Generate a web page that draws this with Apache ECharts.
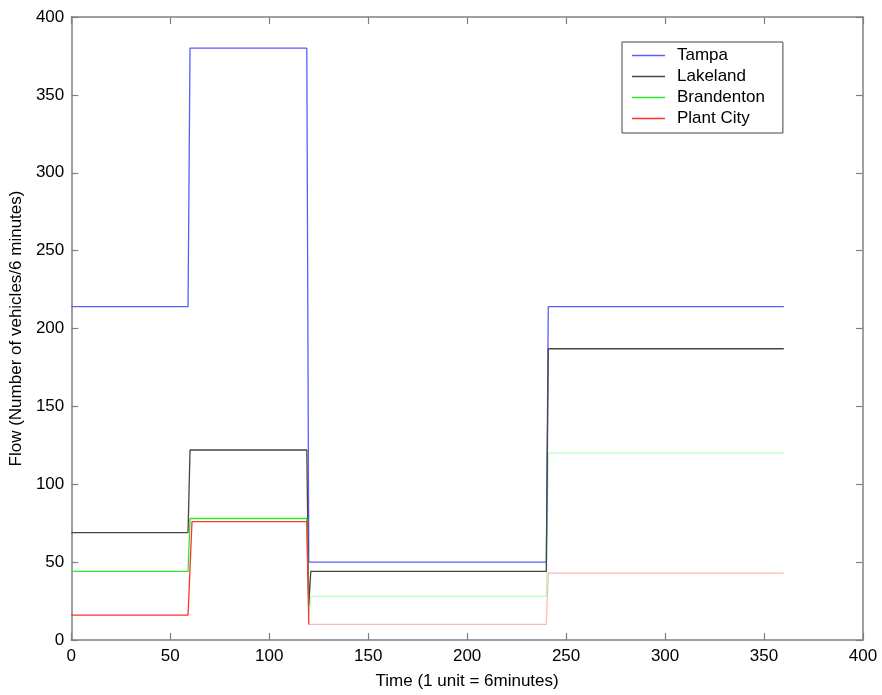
<!DOCTYPE html>
<html>
<head>
<meta charset="utf-8">
<script src="https://cdn.jsdelivr.net/npm/echarts@6/dist/echarts.min.js"></script>
<style>html,body{margin:0;padding:0;background:#fff;}#main{width:882px;height:695px;}</style>
</head>
<body>
<div id="main"></div>
<script>
// Data (time in units of 6 minutes, flow in vehicles / 6 minutes)
const seriesNames = ['Tampa', 'Lakeland', 'Brandenton', 'Plant City'];
const tampaTime = [0, 59, 60, 119, 120, 240, 241, 360];
const tampaFlow = [214, 214, 380, 380, 50, 50, 214, 214];
const lakelandTime = [0, 59, 60, 119, 120, 121, 240, 241, 360];
const lakelandFlow = [69, 69, 122, 122, 22, 44, 44, 187, 187];
const brandentonTime = [0, 59, 60, 119, 120, 121, 240, 241, 360];
const brandentonFlow = [44, 44, 78, 78, 16, 28, 28, 120, 120];
const plantCityTime = [0, 59, 61, 119, 120, 240, 241, 360];
const plantCityFlow = [16, 16, 76, 76, 10, 10, 43, 43];
const xTicks = [0, 50, 100, 150, 200, 250, 300, 350, 400];
const yTicks = [0, 50, 100, 150, 200, 250, 300, 350, 400];
const fadeFrom = 120; // the thin green/red lines look paler after this time

const pairs = (t, v) => t.map((x, i) => [x, v[i]]);
const before = (t, v) => pairs(t, v).filter(p => p[0] <= fadeFrom);
const after = (t, v) => pairs(t, v).filter(p => p[0] >= fadeFrom);
const FONT = 'Liberation Sans, Arial, sans-serif';
const AX = '#808080';
const colors = ['#5c5cff', '#454545', '#2ee82e', '#ff3030'];
const paleColors = ['#5c5cff', '#454545', '#b8ffb8', '#ffb8b8'];

const baseAxis = {
  type: 'value', min: 0, max: 400, interval: 50,
  axisLine: { show: true, onZero: false, lineStyle: { color: AX, width: 1.5 } },
  axisTick: { show: true, inside: true, length: 7, lineStyle: { color: AX, width: 1.2 } },
  splitLine: { show: false }
};

const lineSeries = (name, data, color, z) => ({
  name, data, type: 'line', showSymbol: false, symbol: 'none', color, z,
  lineStyle: { width: 1.3, color }, emphasis: { disabled: true }
});

const chart = echarts.init(document.getElementById('main'), null, { renderer: 'canvas' });
chart.setOption({
  backgroundColor: '#fff',
  animation: false,
  grid: { left: 71, right: 19, top: 17, bottom: 54, containLabel: false },
  xAxis: [
    Object.assign({}, baseAxis, {
      position: 'bottom',
      name: 'Time (1 unit = 6minutes)', nameLocation: 'middle', nameGap: 33,
      nameTextStyle: { fontFamily: FONT, fontSize: 17, color: '#000' },
      axisLabel: { fontFamily: FONT, fontSize: 17, color: '#000', margin: 8,
        formatter: v => xTicks.includes(v) ? String(v) : '' }
    }),
    Object.assign({}, baseAxis, { position: 'top', axisLabel: { show: false } })
  ],
  yAxis: [
    Object.assign({}, baseAxis, {
      position: 'left',
      name: 'Flow (Number of vehicles/6 minutes)', nameLocation: 'middle', nameRotate: 90, nameGap: 42,
      nameTextStyle: { fontFamily: FONT, fontSize: 17, color: '#000' },
      axisLabel: { fontFamily: FONT, fontSize: 17, color: '#000', margin: 7,
        formatter: v => yTicks.includes(v) ? String(v) : '' }
    }),
    Object.assign({}, baseAxis, { position: 'right', axisLabel: { show: false } })
  ],
  legend: {
    orient: 'vertical', left: 622, top: 42,
    padding: [5, 18, 6, 10], itemGap: 4,
    itemWidth: 33, itemHeight: 1.5, icon: 'rect',
    borderColor: '#444', borderWidth: 1, backgroundColor: '#fff',
    textStyle: { fontFamily: FONT, fontSize: 17, color: '#000', padding: [0, 0, 0, 7] },
    data: seriesNames.map((n, i) => ({ name: n, itemStyle: { color: colors[i] } }))
  },
  series: [
    lineSeries(seriesNames[0], pairs(tampaTime, tampaFlow), colors[0], 2),
    lineSeries(seriesNames[1], pairs(lakelandTime, lakelandFlow), colors[1], 3),
    lineSeries(seriesNames[2], after(brandentonTime, brandentonFlow), paleColors[2], 1),
    lineSeries(seriesNames[3], after(plantCityTime, plantCityFlow), paleColors[3], 1),
    lineSeries(seriesNames[2], before(brandentonTime, brandentonFlow), colors[2], 4),
    lineSeries(seriesNames[3], before(plantCityTime, plantCityFlow), colors[3], 5)
  ]
});
</script>
</body>
</html>
